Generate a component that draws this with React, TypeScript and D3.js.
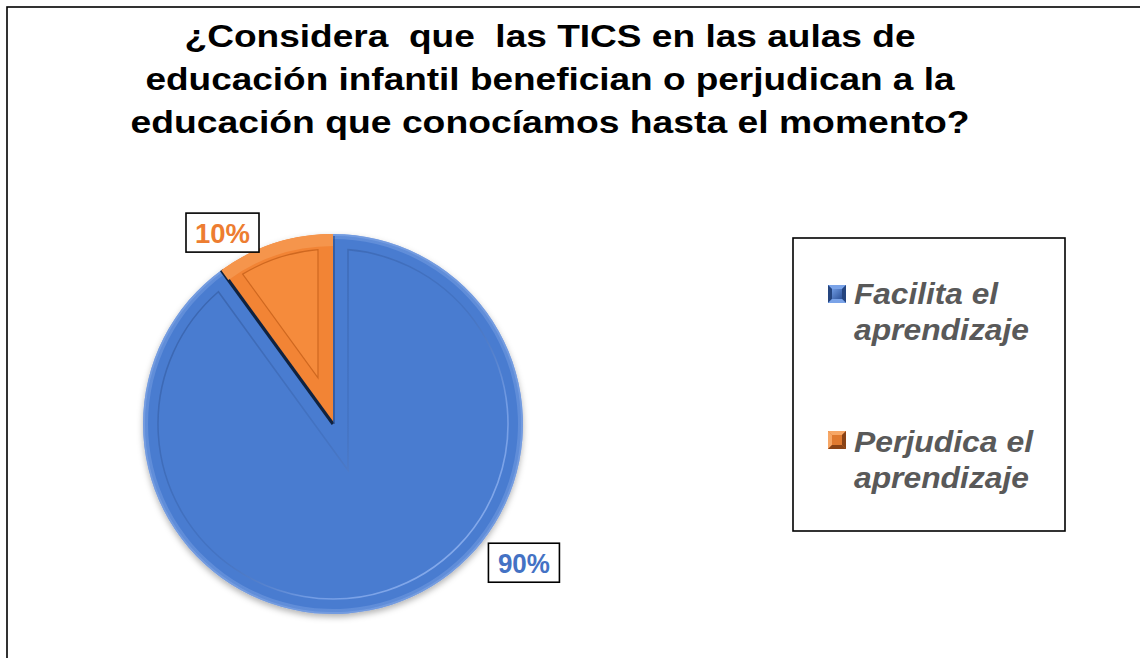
import React from 'react';
import * as d3 from 'd3';

const titleLines = [
  '¿Considera  que  las TICS en las aulas de',
  'educación infantil benefician o perjudican a la',
  'educación que conocíamos hasta el momento?',
];
const categories = ['Facilita el aprendizaje', 'Perjudica el aprendizaje'];
const legendLines = [
  ['Facilita el', 'aprendizaje'],
  ['Perjudica el', 'aprendizaje'],
];
const values = [90, 10];
const pctLabels = ['90%', '10%'];

const W = 1140;
const H = 658;
const cx = 333;
const cy = 424;
const R = 190;
const BEV = 15;

const colors = ['#4a7bd0', '#f5893a'];
const labelColors = ['#4472c4', '#ed7d31'];

const titleLayout = { x: 550, y: [47, 90, 133], w: [731, 809, 839] };
const legendLayout = {
  box: [793, 238, 272, 293],
  markerX: 828,
  markerY: [285, 431],
  textX: 854,
  baselines: [
    [304, 340],
    [452, 488],
  ],
  widths: [
    [144, 175],
    [179, 175],
  ],
};
// label boxes: [angle(deg), radius, boxW, boxH, textWidth]
const labelLayout = [
  { angle: 126, radius: 236, w: 71, h: 39, tw: 52 },
  { angle: 330, radius: 221, w: 73, h: 39, tw: 55 },
];

function pt(a: number, r: number): [number, number] {
  return [cx + r * Math.sin(a), cy - r * Math.cos(a)];
}

function insetPath(start: number, end: number, r: number, w: number) {
  const ri = r - w;
  const d = Math.asin(w / ri);
  const half = (end - start) / 2;
  const t = w / Math.sin(half);
  const apex = pt(start + half, t);
  const p0 = pt(start + d, ri);
  const p1 = pt(end - d, ri);
  const large = end - start - 2 * d > Math.PI ? 1 : 0;
  return `M${apex[0]},${apex[1]}L${p0[0]},${p0[1]}A${ri},${ri} 0 ${large} 1 ${p1[0]},${p1[1]}Z`;
}

export default function App() {
  const pie = d3.pie<number>().sort(null).value((d) => d);
  const arcs = pie(values);
  const arc = d3.arc<d3.PieArcDatum<number>>().innerRadius(0).outerRadius(R);
  const rimArc = d3
    .arc<d3.PieArcDatum<number>>()
    .innerRadius(R - 12)
    .outerRadius(R);

  const blue = arcs[0];
  const orange = arcs[1];
  const edge324 = pt(blue.endAngle, R);

  const font = '"Liberation Sans", Arial, sans-serif';

  return (
    <svg
      width={W}
      height={H}
      style={{ position: 'absolute', left: 0, top: 0, background: '#fff' }}
    >
      <defs>
        <filter id="shadow" x="-20%" y="-20%" width="140%" height="140%">
          <feDropShadow dx="0" dy="3" stdDeviation="3" floodColor="#000" floodOpacity="0.3" />
        </filter>
        <linearGradient
          id="blueEdge"
          gradientUnits="userSpaceOnUse"
          x1={cx - R}
          y1={cy - R * 0.4}
          x2={cx + R}
          y2={cy + R * 0.4}
        >
          <stop offset="0" stopColor="#9dbbf0" stopOpacity="0.5" />
          <stop offset="0.35" stopColor="#9dbbf0" stopOpacity="0" />
          <stop offset="0.55" stopColor="#1b2f55" stopOpacity="0" />
          <stop offset="0.8" stopColor="#1b2f55" stopOpacity="0.9" />
          <stop offset="1" stopColor="#0b1a33" stopOpacity="1" />
        </linearGradient>
        <linearGradient
          id="blueInnerLight"
          gradientUnits="userSpaceOnUse"
          x1={cx - R}
          y1={cy - R}
          x2={cx + R}
          y2={cy + R}
        >
          <stop offset="0" stopColor="#2c4f8f" stopOpacity="0.6" />
          <stop offset="0.5" stopColor="#2c4f8f" stopOpacity="0.2" />
          <stop offset="0.7" stopColor="#8fb2f2" stopOpacity="0.6" />
          <stop offset="1" stopColor="#a8c4f7" stopOpacity="0.9" />
        </linearGradient>
        <linearGradient
          id="orangeFill"
          gradientUnits="userSpaceOnUse"
          x1={cx - 16}
          y1={0}
          x2={cx}
          y2={0}
        >
          <stop offset="0" stopColor="#f28435" />
          <stop offset="0.3" stopColor="#dc722b" />
          <stop offset="0.8" stopColor="#9c4a16" />
          <stop offset="1" stopColor="#5e2d0d" />
        </linearGradient>
        <linearGradient
          id="orangeRim"
          gradientUnits="userSpaceOnUse"
          x1={0}
          y1={cy - R}
          x2={0}
          y2={cy - R + 14}
        >
          <stop offset="0" stopColor="#f5954c" />
          <stop offset="0.45" stopColor="#fcb77d" />
          <stop offset="1" stopColor="#f5893a" stopOpacity="0" />
        </linearGradient>
        <linearGradient id="mkBlue" x1="0" y1="0" x2="1" y2="1">
          <stop offset="0" stopColor="#6d98e0" />
          <stop offset="1" stopColor="#2d5299" />
        </linearGradient>
      </defs>

      {/* chart border */}
      <rect x={7} y={7} width={W} height={H} fill="#fff" stroke="#000" strokeWidth={1.6} />

      {/* title */}
      {titleLines.map((t, i) => (
        <text
          key={i}
          x={titleLayout.x}
          y={titleLayout.y[i]}
          textAnchor="middle"
          fontFamily={font}
          fontWeight="bold"
          fontSize={31}
          fill="#000"
          textLength={titleLayout.w[i]}
          lengthAdjust="spacingAndGlyphs"
          style={{ whiteSpace: 'pre' }}
        >
          {t}
        </text>
      ))}

      {/* pie */}
      <g filter="url(#shadow)">
        <path d={arc(blue) || ''} transform={`translate(${cx},${cy})`} fill={colors[0]} />
        <path
          d={arc(orange) || ''}
          transform={`translate(${cx},${cy})`}
          fill="url(#orangeFill)"
        />
      </g>
      {/* blue decorations */}
      <path
        d={insetPath(blue.startAngle, blue.endAngle, R, BEV)}
        fill="none"
        stroke="url(#blueInnerLight)"
        strokeWidth={1.6}
      />
      <path
        d={d3.arc<d3.PieArcDatum<number>>().innerRadius(R - 2).outerRadius(R)(blue) || ''}
        transform={`translate(${cx},${cy})`}
        fill="url(#blueEdge)"
      />
      <path
        d={d3.arc<d3.PieArcDatum<number>>().innerRadius(R - 5).outerRadius(R - 2)(blue) || ''}
        transform={`translate(${cx},${cy})`}
        fill="url(#blueEdge)"
        opacity={0.55}
      />
      <line x1={cx} y1={cy} x2={edge324[0]} y2={edge324[1]} stroke="#10223f" strokeWidth={3.2} />
      <line x1={cx + 1} y1={cy - R + 2} x2={cx + 1} y2={cy} stroke="#2b4c86" strokeWidth={1.2} />
      {/* orange decorations */}
      <path d={rimArc(orange) || ''} transform={`translate(${cx},${cy})`} fill="url(#orangeRim)" />
      <path
        d={insetPath(orange.startAngle, orange.endAngle, R, BEV)}
        fill="#f58b3c"
        stroke="#cf6820"
        strokeWidth={1.2}
      />

      {/* data labels */}
      {arcs.map((a, i) => {
        const L = labelLayout[i];
        const [lx, ly] = pt((L.angle * Math.PI) / 180, L.radius);
        return (
          <g key={i}>
            <rect
              x={lx - L.w / 2}
              y={ly - L.h / 2}
              width={L.w}
              height={L.h}
              fill="#fff"
              stroke="#000"
              strokeWidth={1.6}
            />
            <text
              x={lx}
              y={ly + 10}
              textAnchor="middle"
              fontFamily={font}
              fontWeight="bold"
              fontSize={28}
              fill={labelColors[i]}
              textLength={L.tw}
              lengthAdjust="spacingAndGlyphs"
            >
              {pctLabels[i]}
            </text>
          </g>
        );
      })}

      {/* legend */}
      <rect
        x={legendLayout.box[0]}
        y={legendLayout.box[1]}
        width={legendLayout.box[2]}
        height={legendLayout.box[3]}
        fill="#fff"
        stroke="#000"
        strokeWidth={1.6}
      />
      {categories.map((c, i) => {
        const mx = legendLayout.markerX;
        const my = legendLayout.markerY[i];
        const s = 18;
        const b = 4;
        const dark = i === 0 ? '#25457f' : '#8a4316';
        const light = i === 0 ? '#7aa3e8' : '#f7a766';
        const mid = i === 0 ? '#4a7bd0' : '#d8722c';
        return (
          <g key={c}>
            <title>{c}</title>
            <rect x={mx} y={my} width={s} height={s} fill={mid} />
            <polygon points={`${mx},${my} ${mx + s},${my} ${mx + s - b},${my + b} ${mx + b},${my + b}`} fill={light} />
            <polygon points={`${mx},${my} ${mx + b},${my + b} ${mx + b},${my + s - b} ${mx},${my + s}`} fill={i === 0 ? dark : light} />
            <polygon points={`${mx + s},${my} ${mx + s},${my + s} ${mx + s - b},${my + s - b} ${mx + s - b},${my + b}`} fill={dark} />
            <polygon points={`${mx},${my + s} ${mx + s},${my + s} ${mx + s - b},${my + s - b} ${mx + b},${my + s - b}`} fill={i === 0 ? light : dark} />
            {i === 0 ? (
              <rect x={mx + b} y={my + b} width={s - 2 * b} height={s - 2 * b} fill="url(#mkBlue)" />
            ) : (
              <rect x={mx + b} y={my + b} width={s - 2 * b} height={s - 2 * b} fill="#e07a30" />
            )}
            {legendLines[i].map((ln, j) => (
              <text
                key={j}
                x={legendLayout.textX}
                y={legendLayout.baselines[i][j]}
                fontFamily={font}
                fontWeight="bold"
                fontStyle="italic"
                fontSize={29}
                fill="#595959"
                textLength={legendLayout.widths[i][j]}
                lengthAdjust="spacingAndGlyphs"
              >
                {ln}
              </text>
            ))}
          </g>
        );
      })}
    </svg>
  );
}
